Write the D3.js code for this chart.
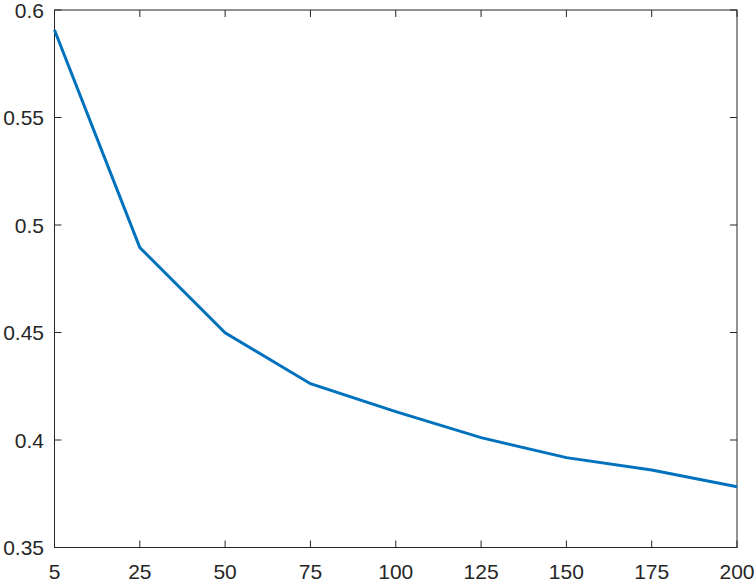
<!DOCTYPE html>
<html>
<head>
<meta charset="utf-8">
<script src="https://cdn.jsdelivr.net/npm/d3@7"></script>
<style>
  body { margin: 0; background: #fff; }
  text { font-family: "Liberation Sans", Arial, sans-serif; }
</style>
</head>
<body>
<script>
  // data
  var xLabels = ["5", "25", "50", "75", "100", "125", "150", "175", "200"];
  var values = [0.5907, 0.4895, 0.4499, 0.4262, 0.4132, 0.4011, 0.3918, 0.3860, 0.3783];
  var yTicks = [0.35, 0.4, 0.45, 0.5, 0.55, 0.6];

  var w = 754, h = 581;
  var plotL = 54.5, plotR = 737, plotT = 10, plotB = 547.5;
  var tickLen = 7;
  var axisColor = "#262626";
  var fontSize = 21;

  var svg = d3.select("body").append("svg")
    .attr("width", w)
    .attr("height", h);

  var x = d3.scalePoint().domain(xLabels).range([plotL, plotR]);
  var y = d3.scaleLinear().domain([0.35, 0.6]).range([plotB, plotT]);

  // mirrored ticks (MATLAB box style)
  var g = svg.append("g");
  xLabels.forEach(function (d) {
    g.append("line").attr("x1", x(d)).attr("x2", x(d))
      .attr("y1", plotB).attr("y2", plotB - tickLen)
      .attr("stroke", axisColor);
    g.append("line").attr("x1", x(d)).attr("x2", x(d))
      .attr("y1", plotT).attr("y2", plotT + tickLen)
      .attr("stroke", axisColor);
    g.append("text").attr("x", x(d)).attr("y", 578.5)
      .attr("text-anchor", "middle")
      .attr("font-size", fontSize)
      .attr("fill", axisColor)
      .text(d);
  });
  yTicks.forEach(function (d) {
    g.append("line").attr("x1", plotL).attr("x2", plotL + tickLen)
      .attr("y1", y(d)).attr("y2", y(d))
      .attr("stroke", axisColor);
    g.append("line").attr("x1", plotR).attr("x2", plotR - tickLen)
      .attr("y1", y(d)).attr("y2", y(d))
      .attr("stroke", axisColor);
    g.append("text").attr("x", 44).attr("y", y(d) + 7.5)
      .attr("text-anchor", "end")
      .attr("font-size", fontSize)
      .attr("fill", axisColor)
      .text(d3.format("")(d));
  });

  svg.append("rect")
    .attr("x", plotL).attr("y", plotT)
    .attr("width", plotR - plotL).attr("height", plotB - plotT)
    .attr("fill", "none")
    .attr("stroke", axisColor);

  var line = d3.line()
    .x(function (d, i) { return x(xLabels[i]); })
    .y(function (d) { return y(d); });

  svg.append("path")
    .datum(values)
    .attr("d", line)
    .attr("fill", "none")
    .attr("stroke", "#0072BD")
    .attr("stroke-width", 3);
</script>
</body>
</html>
